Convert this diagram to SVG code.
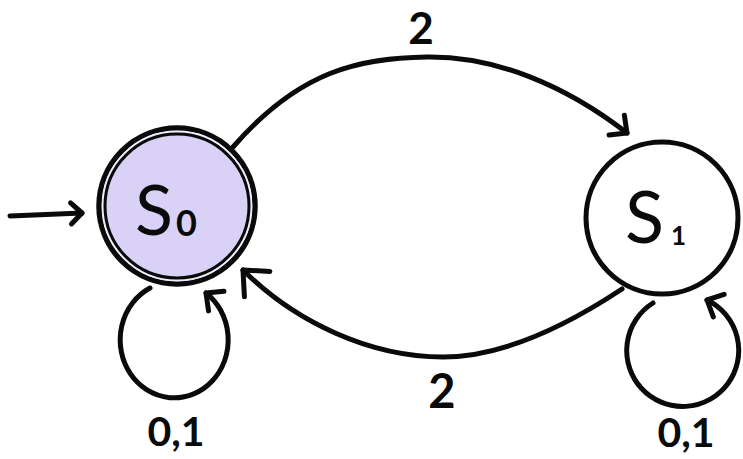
<svg xmlns="http://www.w3.org/2000/svg" width="743" height="459" viewBox="0 0 743 459">
  <style>
    .edge { fill: none; stroke: #0a0a0a; stroke-width: 5; stroke-linecap: round; stroke-linejoin: round; }
    .head { fill: none; stroke: #0a0a0a; stroke-width: 5; stroke-linecap: round; stroke-linejoin: round; }
    .lbl { font-family: Lato, "Liberation Sans", sans-serif; font-weight: 700; fill: #0a0a0a; }
    .name { font-family: Lato, "Liberation Sans", sans-serif; font-weight: 400; fill: #0a0a0a; }
    .sub { font-weight: 700; }
    .accept { fill: #D9D2F6; stroke: #0a0a0a; stroke-width: 5.5; }
    .gap { fill: none; stroke: #F1EEFC; stroke-width: 2; }
    .inner { fill: none; stroke: #0a0a0a; stroke-width: 3; }
    .state { fill: #ffffff; stroke: #0a0a0a; stroke-width: 5; }
  </style>
  <defs>
    <marker id="arrow" markerUnits="userSpaceOnUse" orient="auto" overflow="visible" refX="0" refY="0" markerWidth="30" markerHeight="30">
      <path class="head" d="M-13,-12.5 L0,0 L-13,12.5"/>
    </marker>
    <marker id="arrowS" markerUnits="userSpaceOnUse" orient="auto" overflow="visible" refX="0" refY="0" markerWidth="30" markerHeight="30">
      <path class="head" d="M-11,-10.5 L0,0 L-11,10.5"/>
    </marker>
    <marker id="arrowL" markerUnits="userSpaceOnUse" orient="auto" overflow="visible" refX="0" refY="0" markerWidth="40" markerHeight="40">
      <path class="head" d="M-20,-18 L0,0 L-20,18"/>
    </marker>
  </defs>
  <rect width="743" height="459" fill="#ffffff"/>

  <g id="connectors">
    <path id="start-arrow" class="edge" d="M10,216 L82,213" marker-end="url(#arrowS)"/>
    <path id="s0-s1" class="edge" d="M233,147 C300,70 360,58 427,57 C495,56 565,85 627,133" marker-end="url(#arrow)"/>
    <path id="s1-s0" class="edge" d="M622,289 C560,330 500,357 443,357 C370,357 295,322 243,270" marker-end="url(#arrowL)"/>
    <path id="s0-loop" class="edge" d="M150,288 A54 58 0 1 0 206,293" marker-end="url(#arrow)"/>
    <path id="s1-loop" class="edge" d="M653,303 A56 56 0 1 0 707,300" marker-end="url(#arrow)"/>
    <text class="lbl" x="421" y="44" font-size="44" text-anchor="middle">2</text>
    <text class="lbl" x="442" y="408" font-size="47" text-anchor="middle">2</text>
    <text class="lbl" x="176" y="446" font-size="41" text-anchor="middle">0,1</text>
    <text class="lbl" x="686" y="447" font-size="41" text-anchor="middle">0,1</text>
  </g>

  <g id="S0">
    <circle class="accept" cx="177" cy="206" r="78"/>
    <circle class="gap" cx="177" cy="206" r="74.4"/>
    <circle class="inner" cx="177" cy="206" r="72"/>
    <text class="name" x="135" y="235" font-size="70">S<tspan class="sub" font-size="36" dx="3" dy="1">0</tspan></text>
  </g>

  <g id="S1">
    <circle class="state" cx="662" cy="218" r="76"/>
    <text class="name" x="625" y="243" font-size="72">S<tspan class="sub" font-size="26" dx="7" dy="2">1</tspan></text>
  </g>
</svg>
